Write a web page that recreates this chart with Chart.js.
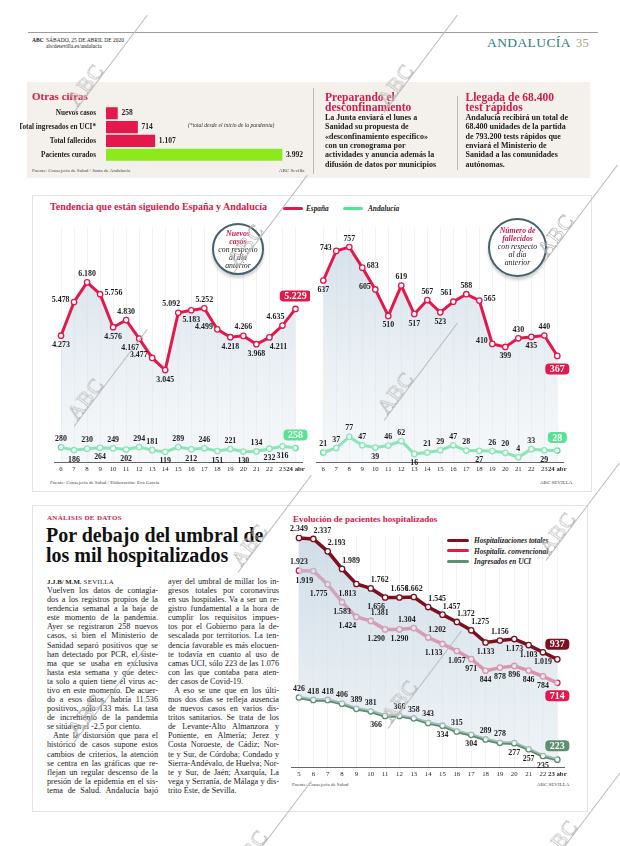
<!DOCTYPE html>
<html lang="es">
<head>
<meta charset="utf-8">
<title>Andalucía 35</title>
<script src="https://cdn.jsdelivr.net/npm/chart.js@4.4.1/dist/chart.umd.min.js"></script>
<style>
  html, body { margin: 0; padding: 0; }
  body { width: 620px; height: 846px; overflow: hidden; position: relative; background: #fff;
         font-family: "Liberation Serif", serif; color: #1b1b1b; }
  .a { position: absolute; white-space: nowrap; }
  .pink { color: #d51a4b; }
  .src { position: absolute; font-size: 5px; color: #444; white-space: nowrap; }
  .ln { position: absolute; white-space: nowrap; font-size: 8.2px; line-height: 9px; }
  canvas { position: absolute; }
  .box { position: absolute; border: 1px solid #e4e4e4; }
  .circle { position: absolute; border: 2px solid #46606c; border-radius: 50%; background: #fff;
            box-shadow: 0 3px 3px rgba(0,0,0,0.18); text-align: center; font-style: italic; font-size: 7.8px; line-height: 7.9px; }
  .wm { position: absolute; transform-origin: 0 0; transform: rotate(-53deg); pointer-events: none; z-index: 10; }
  .wm span { font: 21px "Liberation Serif", serif; color: rgba(255,255,255,0.2); -webkit-text-stroke: 0.6px #b0b0b0; letter-spacing: 1px; }
  .wm i { position: absolute; left: -6px; top: 19px; width: 122px; height: 0; border-top: 0.7px solid #bcbcbc; }
  .leg { position: absolute; height: 3px; width: 20px; border-radius: 2px; }
  .legt { position: absolute; font: italic bold 7.3px "Liberation Serif", serif; white-space: nowrap; }
</style>
</head>
<body>

<!-- cabecera -->
<div class="a" style="left:28px;top:32px;width:570px;height:1.4px;background:#9c9c9c"></div>
<div class="a" style="left:32px;top:37px;font:bold 5.5px 'Liberation Serif'">ABC</div>
<div class="a" style="left:46px;top:36.5px;font:5.5px 'Liberation Serif';line-height:6px">SÁBADO, 25 DE ABRIL DE 2020<br>abcdesevilla.es/andalucia</div>
<div class="a" style="left:487px;top:35px;font:13.5px 'Liberation Serif';color:#2c7c86;letter-spacing:0.4px">ANDALUCÍA <span style="color:#a9a47a;font-size:12.5px;margin-left:2px">35</span></div>

<!-- caja superior -->
<div class="a" style="left:27px;top:82px;width:563px;height:96px;background:#f4f1ec"></div>
<div class="a pink" style="left:32px;top:90px;font:bold 11px 'Liberation Serif'">Otras cifras</div>
<canvas id="otherChart" width="292" height="68" style="left:20px;top:100px"></canvas>
<div class="a" style="left:188px;top:122px;font:italic 5.6px 'Liberation Serif';color:#333">(*total desde el inicio de la pandemia)</div>
<div class="src" style="left:32px;top:168px">Fuente: Consejería de Salud / Junta de Andalucía</div>
<div class="src" style="left:279px;top:168px">ABC Sevilla</div>
<div class="a" style="left:313px;top:88px;width:0.8px;height:86px;background:#b8b8b8"></div>

<div class="a pink" style="left:325px;top:93px;font:bold 11.5px 'Liberation Serif';line-height:9.6px">Preparando el<br>desconfinamiento</div>
<div class="a" style="left:325px;top:113px;font:bold 8px 'Liberation Serif';line-height:9.35px;color:#222">La Junta enviará el lunes a<br>Sanidad su propuesta de<br>«desconfinamiento específico»<br>con un cronograma por<br>actividades y anuncia además la<br>difusión de datos por municipios</div>
<div class="a" style="left:456.5px;top:96px;width:0.8px;height:74px;background:#b8b8b8"></div>
<div class="a pink" style="left:465.5px;top:93px;font:bold 11.5px 'Liberation Serif';line-height:9.6px">Llegada de 68.400<br>test rápidos</div>
<div class="a" style="left:465.5px;top:113px;font:bold 8px 'Liberation Serif';line-height:9.35px;color:#222">Andalucía recibirá un total de<br>68.400 unidades de la partida<br>de 793.200 tests rápidos que<br>enviará el Ministerio de<br>Sanidad a las comunidades<br>autónomas.</div>

<!-- caja tendencia -->
<div class="box" style="left:32px;top:195px;width:558px;height:295px"></div>
<div class="a pink" style="left:50px;top:201px;font:bold 10px 'Liberation Serif'">Tendencia que están siguiendo España y Andalucía</div>
<div class="leg" style="left:283px;top:206.5px;background:#e3184b"></div>
<div class="legt" style="left:306px;top:204px">España</div>
<div class="leg" style="left:343px;top:206.5px;background:#58e394"></div>
<div class="legt" style="left:368px;top:204px">Andalucía</div>
<canvas id="casesChart" width="268" height="256" style="left:42px;top:222px"></canvas>
<canvas id="deathsChart" width="280" height="256" style="left:310px;top:222px"></canvas>
<div class="circle" style="left:212px;top:223px;width:48px;height:48px">
  <div style="margin-top:5px"><b class="pink">Nuevos<br>casos</b><br>con respecto<br>al día<br>anterior</div>
</div>
<div class="circle" style="left:488px;top:218px;width:55px;height:55px">
  <div style="margin-top:7px"><b class="pink">Número de<br>fallecidos</b><br>con respecto<br>al día<br>anterior</div>
</div>
<div class="src" style="left:50px;top:480px">Fuente: Consejería de Salud / Elaboración: Eva García</div>
<div class="src" style="left:540px;top:480px">ABC SEVILLA</div>

<!-- caja inferior -->
<div class="box" style="left:32px;top:505px;width:554px;height:305px"></div>
<div class="a pink" style="left:47px;top:514px;font:bold 7px 'Liberation Serif';letter-spacing:0.3px">ANÁLISIS DE DATOS</div>
<div class="a" style="left:46px;top:526px;font:bold 20px 'Liberation Serif';line-height:19.5px;color:#111">Por debajo del umbral de<br>los mil hospitalizados</div>

<div class="a pink" style="left:293px;top:514px;font:bold 9px 'Liberation Serif'">Evolución de pacientes hospitalizados</div>
<div class="leg" style="left:447px;top:538.5px;width:22px;background:#7d1020"></div>
<div class="legt" style="left:474px;top:536px">Hospitalizaciones totales</div>
<div class="leg" style="left:447px;top:549px;width:22px;background:#e3184b"></div>
<div class="legt" style="left:474px;top:546.5px">Hospitaliz. convencional</div>
<div class="leg" style="left:447px;top:559.5px;width:22px;background:#5e8f71"></div>
<div class="legt" style="left:474px;top:557px">Ingresados en UCI</div>
<canvas id="hospChart" width="307" height="262" style="left:285px;top:520px"></canvas>
<div class="src" style="left:292px;top:782px">Fuente: Consejería de Salud</div>
<div class="src" style="left:537px;top:782px">ABC SEVILLA</div>

<script>
// ---- datos ----
const otherLabels = ["Nuevos casos", "Total ingresados en UCI*", "Total fallecidos", "Pacientes curados"];
const otherValues = [258, 714, 1107, 3992];

const trendDays = ["6", "7", "8", "9", "10", "11", "12", "13", "14", "15", "16", "17", "18", "19", "20", "21", "22", "23", "24 abr"];
const casesSpain = [4273, 5478, 6180, 5756, 4576, 4830, 4167, 3477, 3045, 5092, 5183, 5252, 4499, 4218, 4266, 3968, 4211, 4635, 5229];
const casesAndalucia = [280, 186, 230, 264, 249, 202, 294, 181, 119, 289, 212, 246, 151, 221, 130, 134, 232, 316, 258];
const deathsSpain = [637, 743, 757, 683, 605, 510, 619, 517, 567, 523, 561, 588, 565, 410, 399, 430, 435, 440, 367];
const deathsAndalucia = [21, 37, 77, 47, 39, 46, 62, 16, 21, 29, 47, 28, 27, 26, 20, 4, 33, 29, 28];

const hospDays = ["5", "6", "7", "8", "9", "10", "11", "12", "13", "14", "15", "16", "17", "18", "19", "20", "21", "22", "23 abr"];
const hospTotal = [2349, 2337, 2193, 1989, 1813, 1762, 1656, 1656, 1662, 1545, 1457, 1372, 1275, 1133, 1156, 1173, 1103, 1019, 937];
const hospConv = [1923, 1919, 1775, 1583, 1424, 1381, 1290, 1290, 1304, 1202, 1133, 1057, 971, 844, 878, 896, 846, 784, 714];
const hospUci = [426, 418, 418, 406, 389, 381, 366, 366, 358, 343, 334, 315, 304, 289, 278, 277, 257, 235, 223];

// where each value label sits (a above, b below, l left, r right, q/w above left/right, z/x below left/right, A/B boxed)
const sidesCasesSpain = ["b","l","a","r","b","a","z","l","b","q","b","a","l","b","a","b","x","q","A"];
const sidesCasesAnd = ["a","b","a","b","a","b","a","a","b","a","b","a","b","a","b","a","b","b","A"];
const sidesDeathsSpain = ["b","l","a","r","l","b","a","b","a","b","q","a","r","l","b","a","b","a","B"];
const sidesDeathsAnd = ["a","a","a","a","b","a","a","b","a","a","a","a","b","a","a","a","a","b","A"];
const sidesTotal = ["a","w","w","w","z","w","z","a","a","w","w","w","w","b","a","b","b","b","A"];
const sidesConv = ["a","z","z","b","z","w","z","b","q","w","z","b","b","b","b","b","b","b","B"];
const sidesUci = ["a","a","a","a","a","a","z","a","a","a","b","a","b","a","a","b","b","b","A"];

// ---- colores ----
const red = "#e3184b";
const green = "#58e394";
const darkRed = "#7d1020";
const uciGreen = "#5e8f71";
const lime = "#8be91c";
const serif = "Liberation Serif";

Chart.defaults.font.family = serif;
Chart.defaults.color = "#222";

const fmt = v => String(v).replace(/\B(?=(\d{3})+(?!\d))/g, ".");

const OFFS = {
    a: [0, -8.5, "center"], b: [0, 9.5, "center"],
    l: [-4.5, -2.5, "right"], r: [4.5, -1.5, "left"],
    q: [-7, -8.5, "center"], w: [9, -8, "center"],
    z: [-9, 9.5, "center"], x: [9, 9.5, "center"],
};

function drawBox(ctx, x, y, txt, color) {
    ctx.font = "bold 10px '" + serif + "'";
    const w = ctx.measureText(txt).width + 9;
    const h = 11;
    ctx.fillStyle = color;
    ctx.beginPath();
    ctx.roundRect(x - w / 2, y - h / 2, w, h, 4);
    ctx.fill();
    ctx.fillStyle = "#fff";
    ctx.textAlign = "center";
    ctx.textBaseline = "middle";
    ctx.fillText(txt, x, y + 0.5);
}

// value labels next to every point
const pointLabels = {
    id: "pointLabels",
    afterDatasetsDraw(chart) {
        const ctx = chart.ctx;
        ctx.save();
        chart.data.datasets.forEach((ds, i) => {
            const sides = ds.labelSides;
            if (!sides) return;
            chart.getDatasetMeta(i).data.forEach((pt, j) => {
                const s = sides[j];
                const txt = fmt(ds.data[j]);
                if (s === "A" || s === "B") {
                    drawBox(ctx, pt.x, pt.y + (s === "A" ? -ds.boxGap : ds.boxGap), txt, ds.borderColor);
                    return;
                }
                const o = OFFS[s];
                ctx.font = "bold 7.9px '" + serif + "'";
                ctx.fillStyle = "#1d1d1d";
                ctx.textAlign = o[2];
                ctx.textBaseline = "middle";
                ctx.fillText(txt, pt.x + o[0], pt.y + o[1]);
            });
        });
        ctx.restore();
    },
};

function areaGradient(top, bottom) {
    return function (c) {
        const area = c.chart.chartArea;
        if (!area) return "rgba(210,222,232,0.6)";
        const g = c.chart.ctx.createLinearGradient(0, area.top, 0, area.bottom);
        g.addColorStop(0, top);
        g.addColorStop(1, bottom);
        return g;
    };
}

function lineSet(label, data, color, sides, extra) {
    return Object.assign({
        label: label,
        data: data,
        borderColor: color,
        borderWidth: 3,
        pointRadius: 2.7,
        pointBorderWidth: 1.3,
        pointBackgroundColor: "#fff",
        pointBorderColor: color,
        tension: 0,
        fill: false,
        labelSides: sides,
        boxGap: 13,
    }, extra || {});
}

function xAxis(height, lastIndex) {
    return {
        offset: true,
        grid: { display: true, color: "rgba(120,140,160,0.10)", drawTicks: false },
        border: { display: true, color: "#666", width: 1 },
        ticks: {
            autoSkip: false,
            maxRotation: 0,
            padding: 3,
            color: "#2a2a2a",
            font: c => ({ size: 6.8, weight: c.index === lastIndex ? "bold" : "normal" }),
        },
        afterFit(s) { s.height = height; },
    };
}

const noUi = { legend: { display: false }, tooltip: { enabled: false } };

// OTRAS CIFRAS
new Chart(document.getElementById("otherChart"), {
    type: "bar",
    data: {
        labels: otherLabels,
        datasets: [{
            data: otherValues,
            backgroundColor: [red, red, red, lime],
            barThickness: 11.5,
        }],
    },
    options: {
        responsive: false,
        animation: false,
        indexAxis: "y",
        layout: { padding: { left: 0, right: 12, top: 3, bottom: 3 } },
        plugins: noUi,
        scales: {
            x: { display: false, min: 0, max: 4399 },
            y: {
                grid: { display: false },
                border: { display: false },
                ticks: { padding: 2, color: "#1d1d1d", font: { size: 7.2, weight: "bold" } },
                afterFit(s) { s.width = 86; },
            },
        },
    },
    plugins: [{
        id: "barValues",
        afterDatasetsDraw(chart) {
            const ctx = chart.ctx;
            ctx.save();
            ctx.font = "bold 7.5px '" + serif + "'";
            ctx.fillStyle = "#1d1d1d";
            ctx.textBaseline = "middle";
            chart.getDatasetMeta(0).data.forEach((bar, j) => {
                ctx.fillText(fmt(otherValues[j]), bar.x + 4, bar.y);
            });
            ctx.restore();
        },
    }],
});

// NUEVOS CASOS
new Chart(document.getElementById("casesChart"), {
    type: "line",
    data: {
        labels: trendDays,
        datasets: [
            lineSet("España", casesSpain, red, sidesCasesSpain, {
                fill: "start",
                backgroundColor: areaGradient("rgba(196,212,225,0.75)", "rgba(228,235,241,0.35)"),
            }),
            lineSet("Andalucía", casesAndalucia, green, sidesCasesAnd),
        ],
    },
    options: {
        responsive: false,
        animation: false,
        layout: { padding: { left: 12.5, right: 8, top: 6, bottom: 0 } },
        plugins: noUi,
        scales: {
            x: xAxis(16, 18),
            y: { display: false, min: -243, max: 8123 },
        },
    },
    plugins: [pointLabels],
});

// FALLECIDOS
new Chart(document.getElementById("deathsChart"), {
    type: "line",
    data: {
        labels: trendDays,
        datasets: [
            lineSet("España", deathsSpain, red, sidesDeathsSpain, {
                fill: "start",
                backgroundColor: areaGradient("rgba(196,212,225,0.75)", "rgba(228,235,241,0.35)"),
            }),
            lineSet("Andalucía", deathsAndalucia, green, sidesDeathsAnd),
        ],
    },
    options: {
        responsive: false,
        animation: false,
        layout: { padding: { left: 6.8, right: 26.2, top: 6, bottom: 0 } },
        plugins: noUi,
        scales: {
            x: xAxis(16, 18),
            y: { display: false, min: -13, max: 825 },
        },
    },
    plugins: [pointLabels],
});

// HOSPITALIZADOS
new Chart(document.getElementById("hospChart"), {
    type: "line",
    data: {
        labels: hospDays,
        datasets: [
            lineSet("Hospitalizaciones totales", hospTotal, darkRed, sidesTotal, {
                yAxisID: "yTotal",
                borderWidth: 3.5,
                boxGap: 15,
                fill: { target: 2 },
                backgroundColor: areaGradient("rgba(196,212,225,0.8)", "rgba(222,231,238,0.5)"),
            }),
            lineSet("Hospitaliz. convencional", hospConv, red, sidesConv, { yAxisID: "yConv", borderWidth: 3.5, boxGap: 13 }),
            lineSet("Ingresados en UCI", hospUci, uciGreen, sidesUci, { yAxisID: "yUci", borderWidth: 3.5, boxGap: 14 }),
        ],
    },
    options: {
        responsive: false,
        animation: false,
        layout: { padding: { left: 6.8, right: 27.5, top: 15, bottom: 0 } },
        plugins: noUi,
        scales: {
            x: xAxis(15, 18),
            yTotal: { display: false, min: -315, max: 2383 },
            yConv: { display: false, min: -193, max: 2307 },
            yUci: { display: false, min: 199, max: 957 },
        },
    },
    plugins: [pointLabels],
});

// ---- texto de la noticia ----
const col1 = [
    "#J.J.B/ M.M. SEVILLA",
    "Vuelven los datos de contagia-",
    "dos a los registros propios de la",
    "tendencia semanal a la baja de",
    "este momento de la pandemia.",
    "Ayer se registraron 258 nuevos",
    "casos, si bien el Ministerio de",
    "Sanidad separó positivos que se",
    "han detectado por PCR, el siste-",
    "ma que se usaba en exclusiva",
    "hasta esta semana y que detec-",
    "ta solo a quien tiene el virus ac-",
    "tivo en este momento. De acuer-",
    "do a esos datos, habría 11.536",
    "positivos, sólo 133 más. La tasa",
    "de incremento de la pandemia",
    "se sitúa en el -2,5 por ciento.|",
    ">Ante la distorsión que para el",
    "histórico de casos supone estos",
    "cambios de criterios, la atención",
    "se centra en las gráficas que re-",
    "flejan un regular descenso de la",
    "presión de la epidemia en el sis-",
    "tema de Salud. Andalucía bajó",
];
const col2 = [
    "ayer del umbral de millar los in-",
    "gresos totales por coronavirus",
    "en sus hospitales. Va a ser un re-",
    "gistro fundamental a la hora de",
    "cumplir los requisitos impues-",
    "tos por el Gobierno para la de-",
    "sescalada por territorios. La ten-",
    "dencia favorable es más elocuen-",
    "te todavía en cuanto al uso de",
    "camas UCI, sólo 223 de las 1.076",
    "con las que contaba para aten-",
    "der casos de Covid-19.|",
    ">A eso se une que en los últi-",
    "mos dos días se refleja ausencia",
    "de nuevos casos en varios dis-",
    "tritos sanitarios. Se trata de los",
    "de Levante-Alto Almanzora y",
    "Poniente, en Almería; Jerez y",
    "Costa Noroeste, de Cádiz; Nor-",
    "te y Sur, de Córdoba; Condado y",
    "Sierra-Andévalo, de Huelva; Nor-",
    "te y Sur, de Jaén; Axarquía, La",
    "vega y Serranía, de Málaga y dis-",
    "trito Este, de Sevilla.|",
];

function textColumn(lines, left, top, width, lh) {
    lines.forEach((raw, i) => {
        let t = raw, indent = 0, ragged = false;
        const d = document.createElement("div");
        d.className = "ln";
        if (t[0] === "#") {
            d.innerHTML = "<b style='font-size:6.8px'>J.J.B/ M.M.</b> <span style='font-size:6.8px;letter-spacing:0.3px'>SEVILLA</span>";
            ragged = true;
        } else {
            if (t[0] === ">") { indent = 6; t = t.slice(1); }
            if (t.endsWith("|")) { ragged = true; t = t.slice(0, -1); }
            d.textContent = t;
        }
        d.style.left = (left + indent) + "px";
        d.style.top = (top + i * lh) + "px";
        document.body.appendChild(d);
        if (!ragged) {
            const spaces = (t.match(/ /g) || []).length;
            const extra = width - indent - d.getBoundingClientRect().width;
            if (spaces > 0) d.style.wordSpacing = (extra / spaces) + "px";
        }
    });
}
textColumn(col1, 47, 577, 111, 9.08);
textColumn(col2, 168, 577, 111, 9.08);

// ---- marcas de agua ----
const marks = [[62, 96], [372, 96], [222, 256], [532, 246], [62, 410], [372, 404], [226, 556], [534, 544], [62, 726], [376, 712], [226, 862], [536, 852]];
marks.forEach(p => {
    const w = document.createElement("div");
    w.className = "wm";
    w.style.left = p[0] + "px";
    w.style.top = p[1] + "px";
    w.innerHTML = "<i></i><span>ABC</span>";
    document.body.appendChild(w);
});
</script>
</body>
</html>
